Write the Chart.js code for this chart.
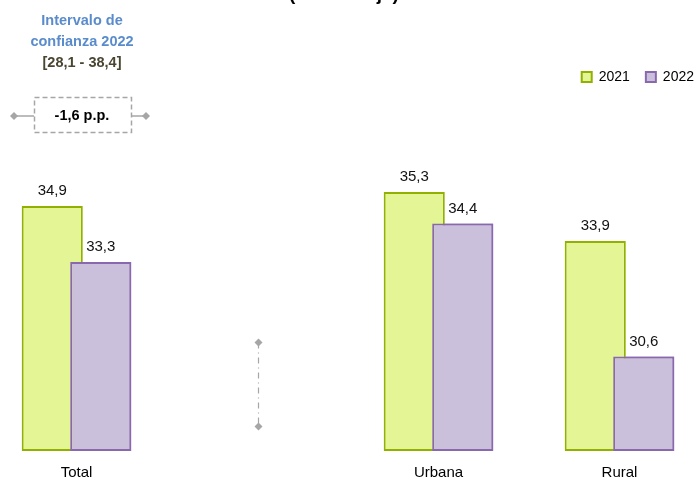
<!DOCTYPE html>
<html>
<head>
<meta charset="utf-8">
<script src="https://cdn.jsdelivr.net/npm/chart.js@4.4.0/dist/chart.umd.min.js"></script>
<style>
  html, body { margin: 0; padding: 0; background: #fff; overflow: hidden; }
  #wrap { position: absolute; left: -14px; top: 0; width: 724px; height: 488px; }
</style>
</head>
<body>
<div id="wrap"><canvas id="c"></canvas></div>
<script>
const categories = ['Total', '', 'Urbana', 'Rural']
const values2021 = [34.9, null, 35.3, 33.9]
const values2022 = [33.3, null, 34.4, 30.6]
const seriesNames = ['2021', '2022']
const yMin = 27.9
const yMax = 38.1
// dash-dot marker sitting in the empty slot
const markerRange = [31.0, 28.6]
const ciTitle = ['Intervalo de', 'confianza 2022']
const ciRange = '[28,1 - 38,4]'
const diffLabel = '-1,6 p.p.'
const titleText = '(Porcentaje)'

const SHIFT = 14 // canvas is shifted left by this much
const FONT = '"Liberation Sans", Arial, sans-serif'

const fmt = v => v.toFixed(1).replace('.', ',')

function diamond(ctx, x, y, r) {
  ctx.beginPath()
  ctx.moveTo(x, y - r)
  ctx.lineTo(x + r, y)
  ctx.lineTo(x, y + r)
  ctx.lineTo(x - r, y)
  ctx.closePath()
  ctx.fill()
}

const labelsPlugin = {
  id: 'valueLabels',
  afterDatasetsDraw(chart) {
    const ctx = chart.ctx
    // chart.js paints the first dataset on top; the 2022 bars overlap the 2021 ones
    chart.getDatasetMeta(1).data.forEach(bar => bar.draw(ctx))

    ctx.save()
    ctx.font = '15px ' + FONT
    ctx.fillStyle = '#111'
    ctx.textAlign = 'center'
    ctx.textBaseline = 'alphabetic'
    chart.data.datasets.forEach((ds, di) => {
      chart.getDatasetMeta(di).data.forEach((bar, i) => {
        if (ds.data[i] == null) return
        ctx.fillText(fmt(ds.data[i]), bar.x, bar.y - 11)
      })
    })
    ctx.restore()
  }
}

const notesPlugin = {
  id: 'notes',
  afterDraw(chart) {
    const ctx = chart.ctx
    const s = SHIFT
    ctx.save()

    // cut title at the very top
    ctx.font = 'bold 19px ' + FONT
    ctx.fillStyle = '#000'
    ctx.textAlign = 'center'
    ctx.textBaseline = 'alphabetic'
    ctx.fillText(titleText, 344 + s, 0)

    // confidence interval note
    ctx.font = 'bold 14.5px ' + FONT
    ctx.textBaseline = 'middle'
    ctx.fillStyle = '#5a8ccc'
    ctx.fillText(ciTitle[0], 82 + s, 21)
    ctx.fillText(ciTitle[1], 82 + s, 42)
    ctx.fillStyle = '#4a4530'
    ctx.fillText(ciRange, 82 + s, 63)

    // difference box
    ctx.strokeStyle = '#a6a6a6'
    ctx.fillStyle = '#a6a6a6'
    ctx.lineWidth = 1.5
    ctx.setLineDash([5, 3])
    ctx.strokeRect(34.5 + s, 97.5, 97, 35)
    ctx.setLineDash([])
    ctx.beginPath()
    ctx.moveTo(14 + s, 116); ctx.lineTo(34 + s, 116)
    ctx.moveTo(131 + s, 116); ctx.lineTo(146 + s, 116)
    ctx.stroke()
    diamond(ctx, 14 + s, 116, 4)
    diamond(ctx, 146 + s, 116, 4)
    ctx.fillStyle = '#000'
    ctx.fillText(diffLabel, 82 + s, 116)

    // dash-dot marker
    const xs = chart.scales.x, ys = chart.scales.y
    const mx = Math.round(xs.getPixelForValue(1)) + 0.5
    const y1 = ys.getPixelForValue(markerRange[0])
    const y2 = ys.getPixelForValue(markerRange[1])
    ctx.strokeStyle = '#a6a6a6'
    ctx.fillStyle = '#a6a6a6'
    ctx.lineWidth = 1.2
    ctx.setLineDash([6, 4, 1, 4])
    ctx.beginPath()
    ctx.moveTo(mx, y1); ctx.lineTo(mx, y2)
    ctx.stroke()
    ctx.setLineDash([])
    diamond(ctx, mx, y1, 4)
    diamond(ctx, mx, y2, 4)
    ctx.restore()
  }
}

new Chart(document.getElementById('c'), {
  type: 'bar',
  data: {
    labels: categories,
    datasets: [
      {
        label: seriesNames[0],
        data: values2021,
        base: yMin,
        backgroundColor: '#e3f594',
        borderColor: '#92b000',
        borderWidth: 2,
        borderSkipped: false,
        barPercentage: 1.26,
        categoryPercentage: 0.536
      },
      {
        label: seriesNames[1],
        data: values2022,
        base: yMin,
        backgroundColor: '#cbc0db',
        borderColor: '#8a68ae',
        borderWidth: 2,
        borderSkipped: false,
        barPercentage: 1.26,
        categoryPercentage: 0.536
      }
    ]
  },
  options: {
    responsive: true,
    maintainAspectRatio: false,
    animation: false,
    layout: { padding: { top: 54, right: 0, bottom: 1, left: 0 } },
    plugins: {
      legend: {
        position: 'top',
        align: 'end',
        labels: {
          boxWidth: 10,
          boxHeight: 10,
          padding: 16,
          color: '#000',
          font: { family: FONT, size: 14 }
        }
      },
      tooltip: { enabled: false }
    },
    scales: {
      x: {
        grid: { display: false },
        border: { display: false },
        ticks: { color: '#000', padding: 5, font: { family: FONT, size: 15 } }
      },
      y: {
        display: false,
        min: yMin,
        max: yMax
      }
    }
  },
  plugins: [labelsPlugin, notesPlugin]
})
</script>
</body>
</html>
